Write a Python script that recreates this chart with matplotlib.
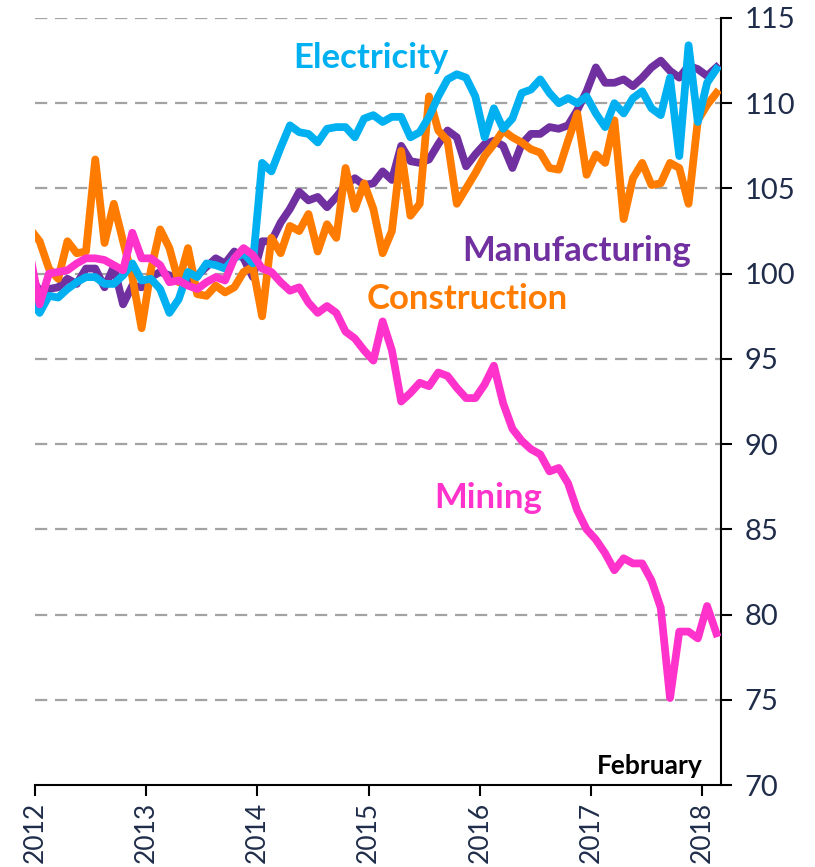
import matplotlib.pyplot as plt
import numpy as np
import pandas as pd

# monthly index, Dec 2011 .. Feb 2018 (first point is clipped at the axis edge)
months = pd.date_range('2011-12-01', '2018-02-01', freq='MS')

manufacturing = [99.8, 99.0, 99.1, 99.2, 99.7, 99.4, 100.3, 100.3, 99.2, 100.4, 98.2,
                 99.3, 99.2, 99.8, 100.1, 99.9, 99.7, 99.6, 99.9, 100.4, 100.9, 100.6,
                 101.3, 100.9, 99.8, 101.9, 101.9, 103.0, 103.8, 104.8, 104.3, 104.5,
                 103.9, 104.5, 105.2, 105.6, 105.2, 105.3, 106.0, 105.5, 107.5, 106.6,
                 106.5, 106.7, 107.6, 108.4, 108.0, 106.3, 107.0, 107.6, 107.8, 107.5,
                 106.2, 107.6, 108.2, 108.2, 108.6, 108.5, 108.7, 109.6, 110.7, 112.1,
                 111.2, 111.2, 111.4, 111.0, 111.5, 112.1, 112.5, 111.9, 111.5, 112.2,
                 112.0, 111.6, 112.1]

construction = [102.6, 101.9, 100.3, 99.7, 101.9, 101.2, 101.3, 106.7, 101.8, 104.1, 101.9,
                99.8, 96.8, 100.2, 102.6, 101.5, 99.5, 101.5, 98.8, 98.7, 99.3, 98.9,
                99.2, 100.1, 100.4, 97.5, 102.1, 101.2, 102.8, 102.5, 103.5, 101.3,
                102.9, 102.1, 106.2, 103.8, 105.3, 103.8, 101.2, 102.5, 107.2, 103.4,
                104.1, 110.4, 108.4, 107.8, 104.1, 105.0, 105.9, 106.9, 107.6, 108.4,
                108.0, 107.7, 107.3, 107.1, 106.2, 106.1, 107.8, 109.4, 105.8, 107.0,
                106.5, 109.0, 103.2, 105.6, 106.5, 105.2, 105.3, 106.5, 106.2, 104.1,
                109.0, 109.9, 110.6]

electricity = [98.5, 97.7, 98.7, 98.6, 99.1, 99.5, 99.8, 99.8, 99.4, 99.4, 99.9,
               100.6, 99.6, 99.7, 99.1, 97.7, 98.5, 100.1, 99.8, 100.6, 100.5, 100.3,
               100.9, 101.2, 100.6, 106.5, 106.0, 107.4, 108.7, 108.3, 108.2, 107.7,
               108.5, 108.6, 108.6, 108.0, 109.1, 109.3, 108.9, 109.2, 109.2, 108.0,
               108.3, 109.2, 110.4, 111.4, 111.7, 111.5, 110.4, 108.0, 109.7, 108.5,
               109.1, 110.6, 110.8, 111.4, 110.6, 110.0, 110.3, 110.0, 110.4, 109.4,
               108.6, 110.0, 109.4, 110.3, 110.7, 109.7, 109.3, 111.5, 106.9, 113.4,
               108.9, 111.2, 112.0]

mining = [101.0, 98.2, 100.0, 100.1, 100.2, 100.6, 100.9, 100.9, 100.8, 100.5, 100.2,
          102.4, 100.9, 100.9, 100.5, 99.5, 99.6, 99.3, 99.1, 99.5, 99.8, 99.6,
          100.9, 101.5, 101.1, 100.3, 100.1, 99.5, 99.0, 99.2, 98.3, 97.7,
          98.1, 97.7, 96.6, 96.2, 95.5, 94.9, 97.2, 95.5, 92.5, 93.0,
          93.6, 93.4, 94.2, 94.0, 93.3, 92.7, 92.7, 93.5, 94.6, 92.4,
          90.9, 90.2, 89.7, 89.4, 88.4, 88.6, 87.7, 86.1, 85.0, 84.4,
          83.6, 82.6, 83.3, 83.0, 83.0, 82.0, 80.4, 75.1, 79.0, 79.0,
          78.6, 80.5, 78.9]

years = [2012, 2013, 2014, 2015, 2016, 2017, 2018]
yticks = [70, 75, 80, 85, 90, 95, 100, 105, 110, 115]

# mid-month position in decimal years
x = months.year + (months.month - 0.5) / 12

c_man = '#7030A0'
c_con = '#FF7C00'
c_ele = '#00B0F0'
c_min = '#FF33CC'
c_txt = '#1F2D4A'

plt.rcParams['font.family'] = ['Lato', 'DejaVu Sans']

fig = plt.figure(figsize=(8.15, 8.67), dpi=100)
ax = fig.add_axes([35/815, 1 - 785/867, 686/815, 767/867])

for v in yticks[1:]:
    ax.axhline(v, color='#A3A3A3', lw=1.6, ls=(0, (5.5, 3.5)), zorder=1)

lw = 5.6
ax.plot(x, manufacturing, color=c_man, lw=lw, zorder=3)
ax.plot(x, construction, color=c_con, lw=lw, zorder=4)
ax.plot(x, electricity, color=c_ele, lw=lw, zorder=5)
ax.plot(x, mining, color=c_min, lw=lw, zorder=6)

ax.set_xlim(2012, 2018 + 2/12)
ax.set_ylim(70, 115)

ax.spines['left'].set_visible(False)
ax.spines['top'].set_visible(False)
ax.spines['right'].set_linewidth(1.5)
ax.spines['bottom'].set_linewidth(1.5)
ax.yaxis.tick_right()
ax.set_yticks(yticks)
ax.set_xticks(years)
ax.set_xticklabels([str(y) for y in years], rotation=90)
ax.tick_params(axis='y', direction='out', length=8, width=1.5, pad=9,
               labelsize=21, labelcolor=c_txt)
ax.tick_params(axis='x', direction='out', length=8, width=1.5, pad=4,
               labelsize=19, labelcolor=c_txt)

lab = dict(fontsize=25, fontweight='bold', va='center', ha='left')
ax.text(2014.32, 112.65, 'Electricity', color=c_ele, **lab)
ax.text(2015.84, 101.35, 'Manufacturing', color=c_man, **lab)
ax.text(2014.98, 98.5, 'Construction', color=c_con, **lab)
ax.text(2015.59, 86.85, 'Mining', color=c_min, **lab)
ax.text(2018.0, 71.1, 'February', color='black', fontsize=19,
        fontweight='bold', va='center', ha='right')

fig.savefig('out.png', dpi=100)
